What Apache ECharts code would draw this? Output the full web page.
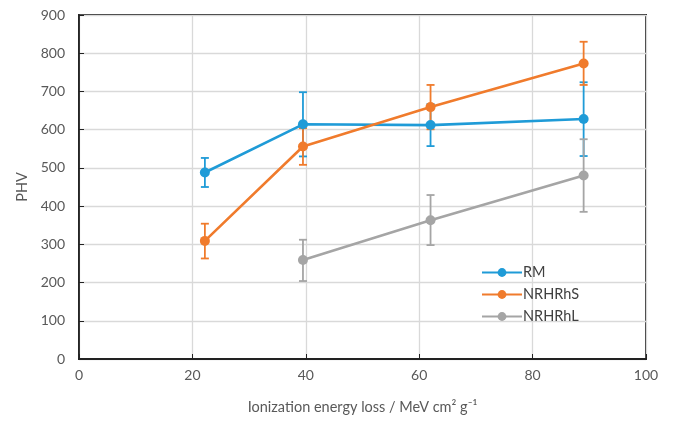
<!DOCTYPE html>
<html>
<head>
<meta charset="utf-8">
<script src="https://cdn.jsdelivr.net/npm/echarts@6/dist/echarts.min.js"></script>
<style>
  html, body { margin: 0; padding: 0; background: #fff; }
  #main { width: 675px; height: 422px; }
</style>
</head>
<body>
<div id="main"></div>
<script>
// x positions (ionization energy loss)
var xRM = [22.2, 39.5, 62, 89];
var xS = [22.2, 39.5, 62, 89];
var xL = [39.5, 62, 89];

// PHV values
var rmVals = [488, 614, 612, 628];
var rmLow = [450, 530, 557, 531];
var rmHigh = [526, 698, 667, 724];

var sVals = [309, 556, 659, 773];
var sLow = [263, 508, 601, 717];
var sHigh = [354, 604, 717, 830];

var lVals = [259, 363, 480];
var lLow = [204, 298, 385];
var lHigh = [312, 429, 575];

var seriesNames = ['RM', 'NRHRhS', 'NRHRhL'];
var colors = ['#1f9bd7', '#f07b2c', '#a5a5a5'];

function pairs(xs, ys) {
  return xs.map(function (x, i) { return [x, ys[i]]; });
}
function errData(xs, lo, hi) {
  return xs.map(function (x, i) { return [x, lo[i], hi[i]]; });
}

function errorRender(color) {
  return function (params, api) {
    var x = api.value(0);
    var top = api.coord([x, api.value(2)]);
    var bot = api.coord([x, api.value(1)]);
    var w = 4;
    var st = { stroke: color, lineWidth: 1.8 };
    return {
      type: 'group',
      children: [
        { type: 'line', shape: { x1: top[0], y1: top[1], x2: bot[0], y2: bot[1] }, style: st },
        { type: 'line', shape: { x1: top[0] - w, y1: top[1], x2: top[0] + w, y2: top[1] }, style: st },
        { type: 'line', shape: { x1: bot[0] - w, y1: bot[1], x2: bot[0] + w, y2: bot[1] }, style: st }
      ]
    };
  };
}

var lineSets = [
  pairs(xRM, rmVals),
  pairs(xS, sVals),
  pairs(xL, lVals)
];
var errSets = [
  errData(xRM, rmLow, rmHigh),
  errData(xS, sLow, sHigh),
  errData(xL, lLow, lHigh)
];

var series = [];
for (var i = 0; i < 3; i++) {
  series.push({
    name: seriesNames[i] + '_err',
    type: 'custom',
    renderItem: errorRender(colors[i]),
    data: errSets[i],
    encode: { x: 0, y: [1, 2] },
    silent: true,
    z: 2
  });
}
for (var j = 0; j < 3; j++) {
  series.push({
    name: seriesNames[j],
    type: 'line',
    data: lineSets[j],
    symbol: 'circle',
    symbolSize: 10,
    color: colors[j],
    lineStyle: { width: 2.6, color: colors[j] },
    itemStyle: { color: colors[j] },
    z: 3
  });
}

var myChart = echarts.init(document.getElementById('main'));
var labelFont = { color: '#595959', fontSize: 14, fontFamily: 'Lato' };

var option = {
  animation: false,
  color: colors,
  grid: {
    left: 79, right: 29, top: 15, bottom: 63,
    show: true, borderColor: '#222', borderWidth: 1.8,
    backgroundColor: 'transparent'
  },
  legend: {
    data: seriesNames,
    orient: 'vertical',
    left: 476,
    top: 260,
    itemWidth: 40,
    itemHeight: 11,
    itemGap: 7,
    textStyle: { color: '#404040', fontSize: 14.5, fontFamily: 'Lato', padding: [0, 0, 0, -4] }
  },
  xAxis: {
    type: 'value',
    min: 0, max: 100, interval: 20,
    name: 'Ionization energy loss / MeV cm\u00b2 g\u207b\u00b9',
    nameLocation: 'middle',
    nameGap: 41,
    nameTextStyle: { color: '#595959', fontSize: 14.5, fontFamily: 'Lato' },
    axisLine: { lineStyle: { color: '#222', width: 1.8 } },
    axisTick: { show: true, inside: true, length: 5, lineStyle: { color: '#222' } },
    axisLabel: Object.assign({ margin: 9 }, labelFont),
    splitLine: { show: true, lineStyle: { color: '#d9d9d9', width: 1.3 } }
  },
  yAxis: {
    type: 'value',
    min: 0, max: 900, interval: 100,
    name: 'PHV',
    nameLocation: 'middle',
    nameGap: 49,
    nameTextStyle: { color: '#595959', fontSize: 14.5, fontFamily: 'Lato' },
    axisLine: { show: true, lineStyle: { color: '#222', width: 1.8 } },
    axisTick: { show: true, inside: true, length: 5, lineStyle: { color: '#222' } },
    axisLabel: Object.assign({ margin: 14 }, labelFont),
    splitLine: { show: true, lineStyle: { color: '#d9d9d9', width: 1.3 } }
  },
  series: series
};
myChart.setOption(option);
</script>
</body>
</html>
